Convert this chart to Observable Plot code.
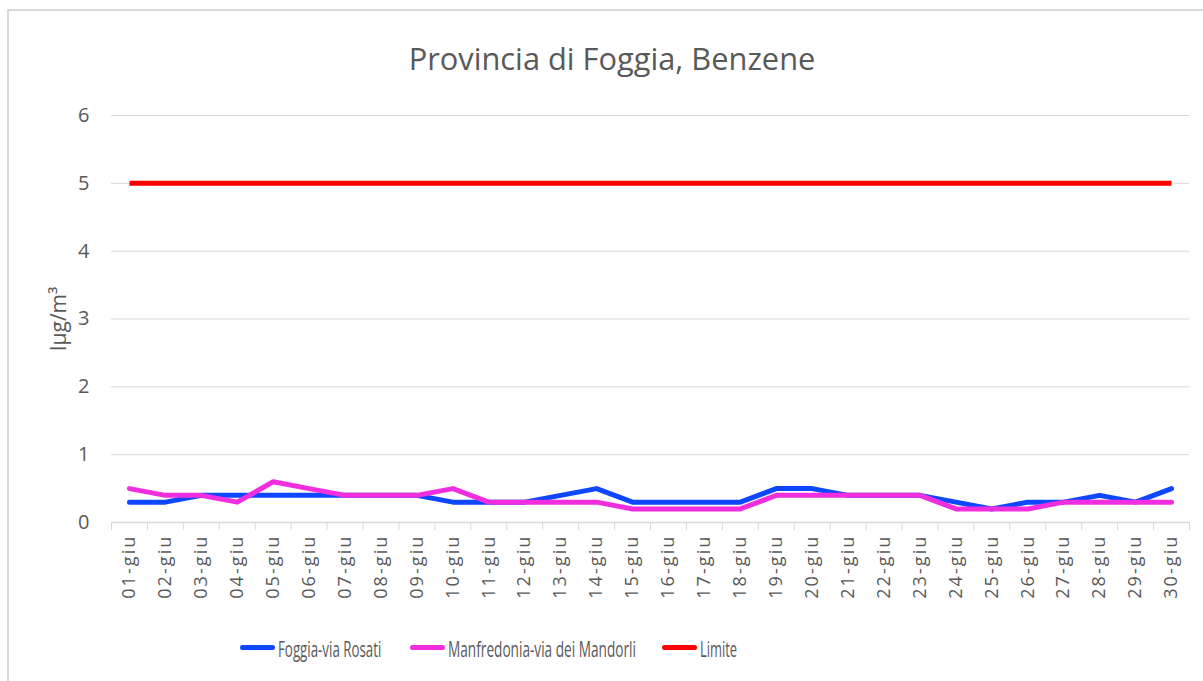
<!DOCTYPE html>
<html><head><meta charset="utf-8">
<script src="https://cdn.jsdelivr.net/npm/d3@7"></script>
<script src="https://cdn.jsdelivr.net/npm/@observablehq/plot@0.6"></script>
<style>
body{margin:0;background:#fff;font-family:"Open Sans",sans-serif;overflow:hidden;width:1203px;height:681px;position:relative;}
#frame{position:absolute;left:7px;top:9px;width:1300px;height:800px;border:2px solid #d9d9d9;}
#title{position:absolute;left:0;top:37px;width:1224px;text-align:center;font-size:30.8px;color:#595959;font-weight:400;}
#chart{position:absolute;left:0;top:90px;}
#ylab{position:absolute;left:58px;top:319px;transform:translate(-50%,-50%) rotate(-90deg);font-size:21px;color:#595959;white-space:nowrap;}
#legend{position:absolute;left:0;top:0;}
.sw{position:absolute;width:35px;height:5px;border-radius:3px;top:645px;}
.lt{position:absolute;top:634px;font-size:22px;line-height:28px;color:#595959;white-space:nowrap;transform-origin:0 50%;}
#chart svg g[aria-label="x-axis tick label"] text{letter-spacing:2.1px;}
</style></head><body>
<div id="frame"></div>
<div id="title">Provincia di Foggia, Benzene</div>
<div id="chart"></div>
<div id="ylab">Iμg/m³</div>
<div id="legend"></div>
<script>
const days = ["01-giu","02-giu","03-giu","04-giu","05-giu","06-giu","07-giu","08-giu","09-giu","10-giu",
"11-giu","12-giu","13-giu","14-giu","15-giu","16-giu","17-giu","18-giu","19-giu","20-giu",
"21-giu","22-giu","23-giu","24-giu","25-giu","26-giu","27-giu","28-giu","29-giu","30-giu"];
const foggia = [0.3,0.3,0.4,0.4,0.4,0.4,0.4,0.4,0.4,0.3,0.3,0.3,0.4,0.5,0.3,0.3,0.3,0.3,0.5,0.5,0.4,0.4,0.4,0.3,0.2,0.3,0.3,0.4,0.3,0.5];
const manfredonia = [0.5,0.4,0.4,0.3,0.6,0.5,0.4,0.4,0.4,0.5,0.3,0.3,0.3,0.3,0.2,0.2,0.2,0.2,0.4,0.4,0.4,0.4,0.4,0.2,0.2,0.2,0.3,0.3,0.3,0.3];
const limite = days.map(() => 5);
const seriesNames = ["Foggia-via Rosati","Manfredonia-via dei Mandorli","Limite"];
const seriesColors = ["#0d47ff","#f02ee0","#ff0000"];
const yTicks = [0,1,2,3,4,5,6];

const idx = days.map((d,i) => i+1);
const rows = (vals) => vals.map((v,i) => ({x: i+1, y: v}));
const bounds = d3.range(0, days.length+1).map(i => i + 0.5);

const chart = Plot.plot({
  width: 1203,
  height: 530,
  marginLeft: 111,
  marginRight: 14,
  marginTop: 25,
  marginBottom: 98,
  style: {fontFamily: "'Open Sans', sans-serif", color: "#595959", background: "transparent"},
  x: {type: "linear", domain: [0.5, days.length + 0.5]},
  y: {domain: [0, 6]},
  marks: [
    Plot.gridY(yTicks, {stroke: "#d9d9d9", strokeOpacity: 1, strokeWidth: 1}),
    Plot.axisY(yTicks, {tickSize: 0, tickPadding: 22, fontSize: 20, label: null, tickFormat: d => String(d)}),
    Plot.axisX(bounds, {tickSize: 8, stroke: "#d9d9d9", tickFormat: () => "", label: null}),
    Plot.axisX(idx, {tickSize: 0, tickPadding: 12, tickRotate: -90, fontSize: 18, tickFormat: d => days[d-1], label: null}),
    Plot.ruleY([0], {stroke: "#d9d9d9", strokeWidth: 1.5}),
    Plot.line(rows(foggia), {x: "x", y: "y", stroke: seriesColors[0], strokeWidth: 5, strokeLinecap: "round", strokeLinejoin: "round"}),
    Plot.line(rows(manfredonia), {x: "x", y: "y", stroke: seriesColors[1], strokeWidth: 5, strokeLinecap: "round", strokeLinejoin: "round"}),
    Plot.line(rows(limite), {x: "x", y: "y", stroke: seriesColors[2], strokeWidth: 5, strokeLinecap: "butt"})
  ]
});
document.getElementById("chart").appendChild(chart);

const legend = document.getElementById("legend");
const swX = [240, 410, 662];
const scales = [0.605, 0.62, 0.587];
seriesNames.forEach((n, i) => {
  const sw = document.createElement("div"); sw.className = "sw"; sw.style.background = seriesColors[i]; sw.style.left = swX[i] + "px";
  const tx = document.createElement("div"); tx.className = "lt"; tx.textContent = n; tx.style.left = (swX[i] + 38) + "px";
  tx.style.transform = `scaleX(${scales[i]})`;
  legend.appendChild(sw); legend.appendChild(tx);
});
</script>
</body></html>
